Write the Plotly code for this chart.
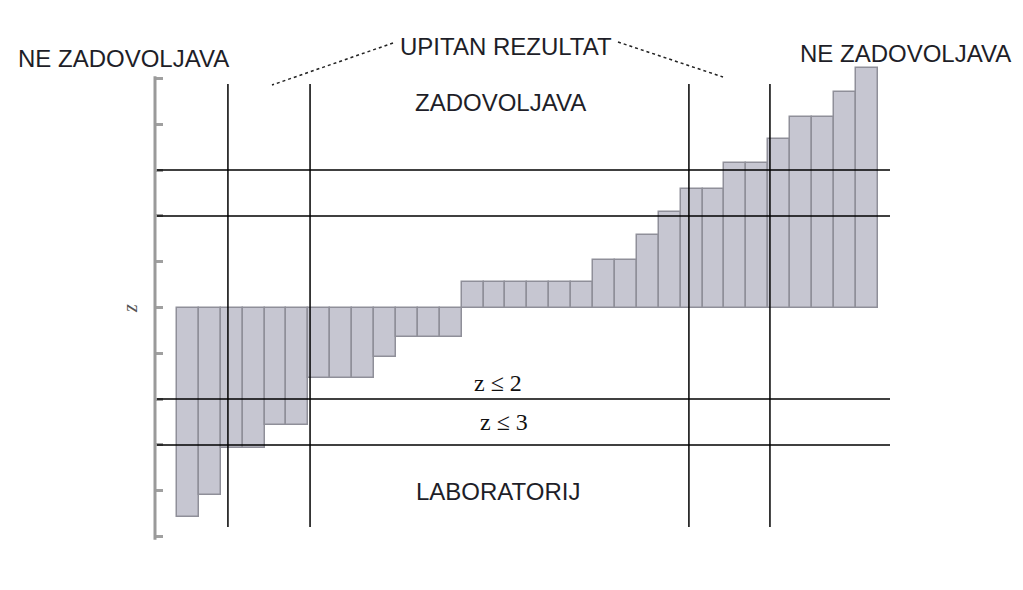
import plotly.graph_objects as go

# ---------------- data ----------------
laboratories = list(range(1, 33))
z_scores = [-4.57, -4.09, -3.07, -3.07, -2.57, -2.57, -1.54, -1.54, -1.54, -1.07,
            -0.64, -0.64, -0.64,
            0.56, 0.56, 0.56, 0.56, 0.56, 0.56, 1.04, 1.04, 1.58, 2.09,
            2.59, 2.59, 3.15, 3.15, 3.69, 4.17, 4.17, 4.71, 5.22]
z_limits = [3, 2, -2, -3]
z_ticks = [-5, -4, -3, -2, -1, 0, 1, 2, 3, 4, 5]
zone_bounds = [2.83, 6.58, 23.88, 27.58]

# ---------------- layout geometry ----------------
W, H = 1023, 590
ML, MR, MT, MB = 155, 133, 30, 30
PW, PH = W - ML - MR, H - MT - MB
ZERO_PX, PX_PER_Z = 307.5, 45.8
X_PX_PER_UNIT = 21.9


def xp(px):
    return (px - ML) / PW


def yp(py):
    return (H - MB - py) / PH


x_lo = -0.5
x_hi = x_lo + PW / X_PX_PER_UNIT
y_hi = (ZERO_PX - MT) / PX_PER_Z
y_lo = -(H - MB - ZERO_PX) / PX_PER_Z

fig = go.Figure()
fig.add_trace(go.Bar(
    x=laboratories, y=z_scores, width=1.0,
    marker=dict(color="#c6c6d1", line=dict(color="#8f8f99", width=1.5)),
    hoverinfo="x+y", showlegend=False,
))

shapes = []
# axis line (gray, scanned look)
shapes.append(dict(type="line", xref="paper", yref="y", x0=0, x1=0,
                   y0=-5.07, y1=5.05, line=dict(color="#9a9a9a", width=3)))
# horizontal z limits
for z in z_limits:
    shapes.append(dict(type="line", xref="paper", yref="y", x0=xp(157), x1=xp(890),
                       y0=z, y1=z, line=dict(color="black", width=1.5)))
# vertical zone boundaries
for xb in zone_bounds:
    shapes.append(dict(type="line", xref="x", yref="paper", x0=xb, x1=xb,
                       y0=yp(527), y1=yp(84), line=dict(color="black", width=1.5)))
# dotted connectors from "UPITAN REZULTAT"
shapes.append(dict(type="line", xref="paper", yref="paper", x0=xp(393), y0=yp(43),
                   x1=xp(272), y1=yp(85), line=dict(color="#222", width=1.5, dash="dot")))
shapes.append(dict(type="line", xref="paper", yref="paper", x0=xp(618), y0=yp(42),
                   x1=xp(723), y1=yp(77), line=dict(color="#222", width=1.5, dash="dot")))

sans = dict(family="Liberation Sans, Arial, sans-serif", size=24, color="#1e1e28")
serif = dict(family="Liberation Serif, Times New Roman, serif", size=24, color="#111")

labels = [
    ("NE ZADOVOLJAVA", 123, 59, sans),
    ("UPITAN REZULTAT", 506, 46, sans),
    ("ZADOVOLJAVA", 500, 103, sans),
    ("NE ZADOVOLJAVA", 905, 53, sans),
    ("z \u2264 2", 498, 383, serif),
    ("z \u2264 3", 504, 422, serif),
    ("LABORATORIJ", 498, 491, sans),
]
annotations = []
for txt, x, y, f in labels:
    annotations.append(dict(text=txt, xref="paper", yref="paper", x=xp(x), y=yp(y),
                            xanchor="center", yanchor="middle", showarrow=False, font=f))
annotations.append(dict(text="<i>z</i>", xref="paper", yref="paper", x=xp(130), y=yp(309),
                        xanchor="center", yanchor="middle", showarrow=False, textangle=-90,
                        font=dict(family="Liberation Serif, serif", size=20, color="#555")))

fig.update_layout(
    width=W, height=H,
    margin=dict(l=ML, r=MR, t=MT, b=MB),
    paper_bgcolor="white", plot_bgcolor="white",
    bargap=0,
    shapes=shapes,
    annotations=annotations,
    xaxis=dict(range=[x_lo, x_hi], showgrid=False, zeroline=False, showline=False,
               showticklabels=False, ticks=""),
    yaxis=dict(range=[y_lo, y_hi], showgrid=False, zeroline=False, showline=False,
               tickvals=z_ticks, ticks="inside", ticklen=8, tickwidth=3,
               tickcolor="#a0a0a0", showticklabels=False),
)

fig.write_html("out.html", config={"displayModeBar": False},
               post_script="document.body.style.margin='0';document.body.style.overflow='hidden';")
